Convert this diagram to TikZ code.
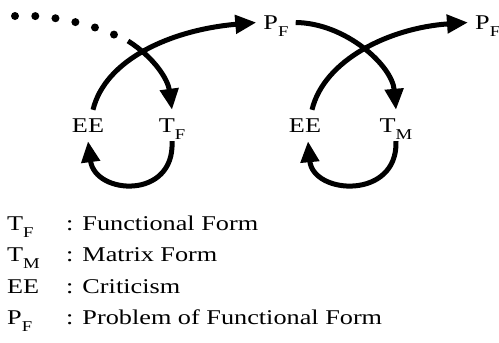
\documentclass[tikz,border=0pt]{standalone}
\usepackage{fontspec}
\setmainfont[FakeStretch=1.25]{Liberation Serif}
\usetikzlibrary{arrows.meta}

\newcommand{\lsub}[1]{\raisebox{-0.36em}{\fontsize{15}{15}\selectfont #1}}

\begin{document}
\begin{tikzpicture}[x=1pt,y=1pt,>={Triangle[length=21pt,width=18pt]},
    every node/.style={font=\fontsize{21}{25}\selectfont},
    term/.style={inner xsep=7pt,inner ysep=9pt,text height=13pt,text depth=0pt},
    flow/.style={line width=5pt},
    key/.style={anchor=base west,inner sep=0pt}]
  \useasboundingbox (0,0) rectangle (499,-343);

  \node[term] (ee1) at (88,-125.5) {EE};
  \node[term] (tf) at (172,-125.5) {T\lsub{F}};
  \node[term] (pf1) at (276,-22.5) {P\lsub{F}};
  \node[term] (ee2) at (305,-125.5) {EE};
  \node[term] (tm) at (396,-125.5) {T\lsub{M}};
  \node[term,anchor=west] (pf2) at (468,-22.5) {P\lsub{F}};

  % dotted lead-in, then the arrow into T_F
  \coordinate (src) at (15,-16);
  \coordinate (fade) at (115,-35);
  \coordinate (join) at (128,-41);
  \draw[line width=8pt,line cap=round,dash pattern=on 0pt off 20.3pt] (src) .. controls (50,-14) and (90,-24) .. (fade);
  \draw[flow,->] (join) .. controls (155,-58) and (168,-80) .. (tf.north);

  \draw[flow,->] ([xshift=5pt]ee1.north) .. controls (105,-60) and (170,-30) .. (pf1.west);
  \draw[flow,->] (tf.south) .. controls (175,-200) and (95,-195) .. (ee1.south);

  \draw[flow,->] (pf1.east) .. controls (345,-23) and (392,-65) .. (tm.north);
  \draw[flow,->] ([xshift=7pt]ee2.north) .. controls (324,-60) and (389,-28) .. (pf2.west);
  \draw[flow,->] (tm.south) .. controls (398,-200) and (313,-195) .. ([xshift=3pt]ee2.south);

  % legend
  \node[key] (ktf) at (7,-230) {T\lsub{F}};
  \node[key] (dtf) at (66,-230) {:\hspace{9pt}Functional Form};
  \node[key] (ktm) at (7,-261) {T\lsub{M}};
  \node[key] (dtm) at (66,-261) {:\hspace{9pt}Matrix Form};
  \node[key] (kee) at (7,-293) {EE};
  \node[key] (dee) at (66,-293) {:\hspace{9pt}Criticism};
  \node[key] (kpf) at (7,-324) {P\lsub{F}};
  \node[key] (dpf) at (66,-324) {:\hspace{9pt}Problem of Functional Form};
\end{tikzpicture}
\end{document}
